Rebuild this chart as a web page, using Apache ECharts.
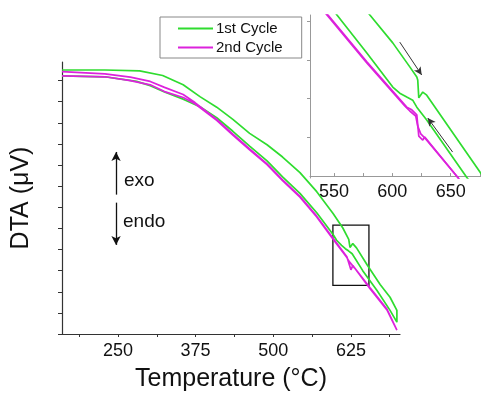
<!DOCTYPE html>
<html><head><meta charset="utf-8">
<script src="https://cdn.jsdelivr.net/npm/echarts@6/dist/echarts.min.js"></script>
<style>html,body{margin:0;padding:0;background:#fff}#c{width:481px;height:397px}</style>
</head><body><div id="c"></div>
<script>
// ---- Main plot data: [Temperature (°C), DTA (arb. units)] ----
const cycle1Heat = [[160,6.25],[229,6.25],[285,6.23],[322,6.12],[355,5.90],[382,5.62],[409,5.37],[435,5.08],[462,4.75],[490,4.48],[515,4.19],[543,3.82],[570,3.37],[596,2.86],[612,2.51],[621.5,2.24],[623.5,2.05],[626,2.03],[628,2.14],[631,2.10],[634,2.04],[651,1.64],[672,1.17],[688,0.87],[699,0.56]];
const cycle1Cool = [[699,0.28],[688,0.56],[667,1.03],[644,1.50],[627,1.90],[621,1.97],[616,2.02],[610,2.10],[602,2.22],[596,2.36],[570,2.87],[543,3.33],[515,3.72],[490,4.10],[462,4.45],[435,4.80],[409,5.12],[382,5.38],[355,5.56],[325,5.73],[302,5.88],[280,5.98],[229,6.09],[160,6.11]];
const cycle2Heat = [[160,6.21],[229,6.16],[270,6.08],[302,5.98],[325,5.84],[355,5.67],[374,5.48],[409,5.08],[435,4.73],[462,4.38],[490,4.03],[515,3.65],[543,3.26],[570,2.79],[596,2.27],[618.5,1.83],[620,1.76],[625,1.52],[628,1.62],[631,1.58],[655.5,1.10],[683,0.59],[699,0.09]];
const cycle2Cool = [[699,0.08],[683,0.57],[655.5,1.08],[631,1.56],[622,1.72],[618.5,1.81],[596,2.25],[570,2.77],[543,3.24],[515,3.63],[490,4.01],[462,4.36],[435,4.71],[409,5.06],[374,5.45],[355,5.60],[325,5.74],[302,5.90],[270,6.00],[229,6.09],[160,6.11]];
// ---- Inset data ----
const insetC1Heat = [[575,4.39],[580.8,4.16],[600.4,3.44],[615,2.82],[621,2.56],[621.8,2.48],[622.7,2.02],[624.4,2.04],[626.1,2.17],[629.5,2.09],[675.7,0.08],[682,-0.2]];
const insetC1Cool = [[668,-0.2],[663.7,-0.03],[629.5,1.45],[621,1.78],[617.5,1.96],[612.4,2.04],[606.4,2.14],[600.4,2.30],[578.2,3.18],[552.6,4.16],[547,4.4]];
const insetC2Heat = [[540,4.33],[544.9,4.16],[578.2,2.95],[612.4,1.78],[616.7,1.71],[621,1.58],[622.7,1.03],[626.1,0.93],[627.8,1.01],[656,-0.03],[660,-0.2]];
const insetC2Cool = [[660,-0.2],[656,-0.03],[628.6,0.96],[624.4,1.09],[621.8,1.29],[620.1,1.55],[615,1.68],[610.7,1.81],[578.2,2.92],[544.9,4.13],[540,4.30]];
// ---- Axis ticks / labels ----
const mainXTicks = [187.5,250,312.5,375,437.5,500,562.5,625,687.5];
const mainXLabels = [250,375,500,625];
const mainYTicks = [0,0.5,1,1.5,2,2.5,3,3.5,4,4.5,5,5.5,6];
const insetXTicks = [550,575,600,625,650,675];
const insetXLabels = [550,600,650];
const insetYTicks = [1,2,3,4];
const zoomBox = [[596,2.58],[654,1.15]];
const exoArrow = [[247,3.30],[247,4.31]];
const endoArrow = [[247,3.11],[247,2.11]];
const heatArrow = [[606.4,3.46],[625.2,2.61]];
const coolArrow = [[651.7,0.62],[630.4,1.50]];

const FONT = 'Liberation Sans, Arial, Helvetica, sans-serif';
const GREEN = '#2fdc2f', MAGENTA = '#dc22dc';
const chart = echarts.init(document.getElementById('c'), null, {renderer:'canvas'});
const lineS = (name, data, color, xi, extra) => Object.assign({
  name, type:'line', data, xAxisIndex:xi, yAxisIndex:xi, symbol:'none', showSymbol:false,
  lineStyle:{color, width:1.7}, itemStyle:{color}, clip:true, animation:false, z:2
}, extra || {});

chart.setOption({
  animation:false,
  textStyle:{fontFamily:FONT},
  legend:{data:['1st Cycle','2nd Cycle'], orient:'vertical', left:160, top:17,
    itemWidth:35, itemHeight:14, itemGap:4, padding:[4,19,3,17],
    itemStyle:{opacity:0, borderWidth:0},
    lineStyle:{width:2},
    borderColor:'#888', borderWidth:1, backgroundColor:'#fff',
    textStyle:{fontSize:15, fontFamily:FONT, color:'#111', padding:[0,0,0,-2]}},
  grid:[{left:62, top:62, width:338, height:275},
        {left:310, top:15, width:171, height:163}],
  xAxis:[
    {type:'value', gridIndex:0, min:160, max:704, name:'Temperature (°C)', nameLocation:'middle', nameGap:33,
     nameTextStyle:{fontSize:25, color:'#111', fontFamily:FONT},
     axisLine:{lineStyle:{color:'#333', width:1.2}}, splitLine:{show:false},
     axisTick:{customValues:mainXTicks, length:3, lineStyle:{color:'#333'}},
     axisLabel:{customValues:mainXLabels, fontSize:18, color:'#111', margin:8, fontFamily:FONT}},
    {type:'value', gridIndex:1, min:529.5, max:676,
     axisLine:{lineStyle:{color:'#999', width:1}}, splitLine:{show:false},
     axisTick:{customValues:insetXTicks, inside:true, length:3, lineStyle:{color:'#999'}},
     axisLabel:{customValues:insetXLabels, fontSize:18, color:'#111', margin:5, fontFamily:FONT}}
  ],
  yAxis:[
    {type:'value', gridIndex:0, min:0, max:6.44, name:'DTA (μV)', nameLocation:'middle', nameGap:28,
     nameTextStyle:{fontSize:25, color:'#111', fontFamily:FONT},
     axisLine:{show:true, lineStyle:{color:'#333', width:1.2}}, splitLine:{show:false},
     axisTick:{show:true, customValues:mainYTicks, length:4, lineStyle:{color:'#333'}},
     axisLabel:{show:false}},
    {type:'value', gridIndex:1, min:-0.05, max:4.16,
     axisLine:{show:true, lineStyle:{color:'#999', width:1}}, splitLine:{show:false},
     axisTick:{show:true, customValues:insetYTicks, length:3, lineStyle:{color:'#999'}},
     axisLabel:{show:false}}
  ],
  series:[
    lineS('1st Cycle', cycle1Heat.concat(cycle1Cool), GREEN, 0, {
      markArea:{silent:true, itemStyle:{color:'rgba(0,0,0,0)', borderColor:'#111', borderWidth:1.3},
        label:{show:false}, data:[[{coord:zoomBox[0]},{coord:zoomBox[1]}]]},
      markLine:{silent:true, symbol:['none','arrow'], symbolSize:[7,9], label:{show:false},
        lineStyle:{color:'#111', width:1.3, type:'solid'},
        data:[[{coord:exoArrow[0]},{coord:exoArrow[1]}],[{coord:endoArrow[0]},{coord:endoArrow[1]}]]}
    }),
    lineS('2nd Cycle', cycle2Heat.concat(cycle2Cool), MAGENTA, 0, {z:3}),
    lineS('1st Cycle', insetC1Heat.concat(insetC1Cool), GREEN, 1, {
      markLine:{silent:true, symbol:['none','arrow'], symbolSize:[6,8], label:{show:false},
        lineStyle:{color:'#333', width:1, type:'solid'},
        data:[[{coord:heatArrow[0]},{coord:heatArrow[1]}],[{coord:coolArrow[0]},{coord:coolArrow[1]}]]}
    }),
    lineS('2nd Cycle', insetC2Heat, MAGENTA, 1, {z:3}),
    lineS('2nd Cycle', insetC2Cool, MAGENTA, 1, {z:3})
  ],
  graphic:[
    {type:'text', left:124, top:171, style:{text:'exo', fontSize:19, fill:'#111', fontFamily:FONT}},
    {type:'text', left:123, top:212, style:{text:'endo', fontSize:19, fill:'#111', fontFamily:FONT}}
  ]
});
</script></body></html>
